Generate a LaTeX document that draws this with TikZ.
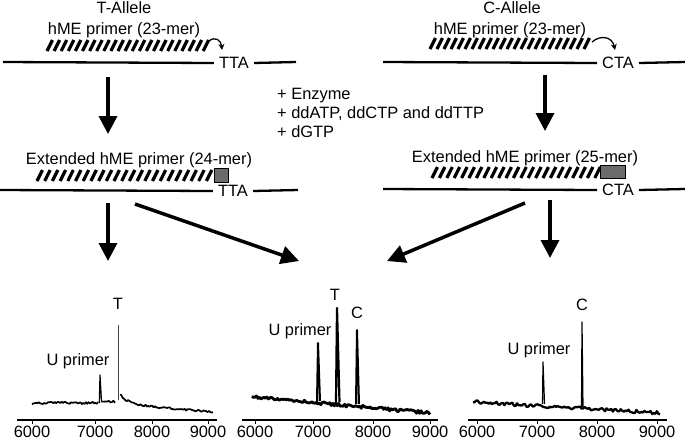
\documentclass[tikz,border=0pt]{standalone}
\usepackage{fontspec}
\setmainfont{Liberation Sans}
\usetikzlibrary{arrows.meta}

\begin{document}
\begin{tikzpicture}[
    x=1pt,y=-1pt,
    font=\fontsize{16.4}{19}\selectfont,
    strand/.style={line width=2.3pt, draw=black},
    stripe/.style={line width=3.2pt, draw=black},
    extbox/.style={draw=black, line width=0.8pt, fill=black!58},
    base/.style={inner sep=5pt},
    lbl/.style={inner sep=0pt},
    flow/.style={-{Triangle[length=18pt,width=18pt]}, line width=3.5pt},
    kink/.style={-{Stealth[length=6pt,width=6pt]}, line width=1.3pt},
    axis/.style={line width=1.6pt},
    tick/.style={line width=1pt},
    trace/.style={line width=1.7pt, line join=round},
    peak/.style={line width=1.2pt, line join=round}
]
\useasboundingbox (0,0) rectangle (685,440);
\pgfmathsetseed{11}

% -----------------------------------------------------------------------------
% Primers annealed to the template
% -----------------------------------------------------------------------------
\node[lbl] (tall) at (124,8) {T-Allele};
\node[lbl] (tprim) at (124,30) {hME primer (23-mer)};
\node[lbl] (call) at (512,8) {C-Allele};
\node[lbl] (cprim) at (510,30) {hME primer (23-mer)};

\foreach \i in {0,...,22}
    \draw[stripe] ({47+7.1*\i},51) -- ++(5.5,-11);
\foreach \i in {0,...,22}
    \draw[stripe] ({430+7*\i},49) -- ++(5.5,-11);

\node[base] (tta1) at (234,63) {TTA};
\node[base] (cta1) at (618,63) {CTA};
\draw[strand] (3,62) -- (tta1.west);
\draw[strand] (tta1.east) -- (296,62);
\draw[strand] (383,62) -- (cta1.west);
\draw[strand] (cta1.east) -- (685,62);

\draw[kink] (209,41) .. controls (215,36) and (221,40) .. (222,50);
\draw[kink] (592,42) .. controls (600,35) and (612,36) .. (615,50);

\node[lbl, align=left, anchor=west] (mix) at (277,113)
    {+ Enzyme\\+ ddATP, ddCTP and ddTTP\\+ dGTP};

% -----------------------------------------------------------------------------
% Extended primers
% -----------------------------------------------------------------------------
\coordinate (t1s) at (108,77);
\coordinate (t1e) at (108,134);
\coordinate (c1s) at (545,75);
\coordinate (c1e) at (545,131);
\draw[flow] (t1s) -- (t1e);
\draw[flow] (c1s) -- (c1e);

\node[lbl] (text) at (139,160) {Extended hME primer (24-mer)};
\node[lbl] (cext) at (525,158) {Extended hME primer (25-mer)};

\foreach \i in {0,...,22}
    \draw[stripe] ({37+7.7*\i},181) -- ++(5.5,-11);
\foreach \i in {0,...,22}
    \draw[stripe] ({432+7.4*\i},178) -- ++(5.5,-11);
\draw[extbox] (214,168) rectangle (228,182);
\draw[extbox] (600,165) rectangle (625,178);

\node[base] (tta2) at (233,191) {TTA};
\node[base] (cta2) at (618,190) {CTA};
\draw[strand] (0,190) -- (tta2.west);
\draw[strand] (tta2.east) -- (298,190);
\draw[strand] (383,189) -- (cta2.west);
\draw[strand] (cta2.east) -- (685,189);

\coordinate (t2s) at (108,203);
\coordinate (t2e) at (108,261);
\coordinate (c2s) at (550,200);
\coordinate (c2e) at (550,258);
\coordinate (tds) at (135,204);
\coordinate (tde) at (299,261);
\coordinate (cds) at (525,203);
\coordinate (cde) at (387,261);
\draw[flow] (t2s) -- (t2e);
\draw[flow] (c2s) -- (c2e);
\draw[flow] (tds) -- (tde);
\draw[flow] (cds) -- (cde);

% -----------------------------------------------------------------------------
% Mass spectra
% -----------------------------------------------------------------------------
% T allele only
\draw[axis] (17,420) -- (217,420);
\foreach \p/\v in {32/6000, 95/7000, 152/8000, 208/9000} {
    \draw[tick] (\p,420) -- (\p,424);
    \node[lbl] (ta\v) at (\p,432) {\v};
}
\draw[trace] plot[domain=32:98, samples=50] (\x,{403+2.6*rnd-1.3});
\draw[trace] plot[domain=101:115, samples=10] (\x,{402+2.6*rnd-1.3});
\draw[trace] plot[domain=120:213, samples=70]
    (\x,{404+8*(\x-120)/93-10*exp(-(\x-120)/8)+2*rnd-1});
\draw[peak] (99.3,403) -- (100,375) -- (101.5,401);
\draw[peak, line width=0.6pt, black!75] (118,400) -- (118,325);
\node[lbl] (tu) at (78,361) {U primer};
\node[lbl] (tt) at (118,304) {T};

% heterozygous
\draw[axis] (242,420) -- (438,420);
\foreach \p/\v in {255/6000, 313/7000, 373/8000, 430/9000} {
    \draw[tick] (\p,420) -- (\p,424);
    \node[lbl] (ha\v) at (\p,432) {\v};
}
\draw[trace, line width=2.8pt] plot[domain=252:430, samples=120]
    (\x,{397+16*(\x-252)/178+3*rnd-1.5});
\draw[peak, line width=2pt] (317,402) -- (318,343) -- (320,401);
\draw[peak, line width=2.2pt] (336,402) -- (337,308) -- (339.5,402);
\draw[peak, line width=2pt] (356,404) -- (357,330) -- (359,404);
\node[lbl] (hu) at (300,331) {U primer};
\node[lbl] (ht) at (335,295) {T};
\node[lbl] (hc) at (357,313) {C};

% C allele only
\draw[axis] (468,420) -- (667,420);
\foreach \p/\v in {477/6000, 537/7000, 597/8000, 657/9000} {
    \draw[tick] (\p,420) -- (\p,424);
    \node[lbl] (ca\v) at (\p,432) {\v};
}
\draw[trace, line width=2.3pt] plot[domain=473:660, samples=120]
    (\x,{402+11*(\x-473)/187+3.4*rnd-1.7});
\draw[peak] (542.5,404) -- (543,362) -- (544.5,404);
\draw[peak] (581.5,407) -- (582,322) -- (583,407);
\node[lbl] (cu) at (539,350) {U primer};
\node[lbl] (cc) at (582,305) {C};

\end{tikzpicture}
\end{document}
